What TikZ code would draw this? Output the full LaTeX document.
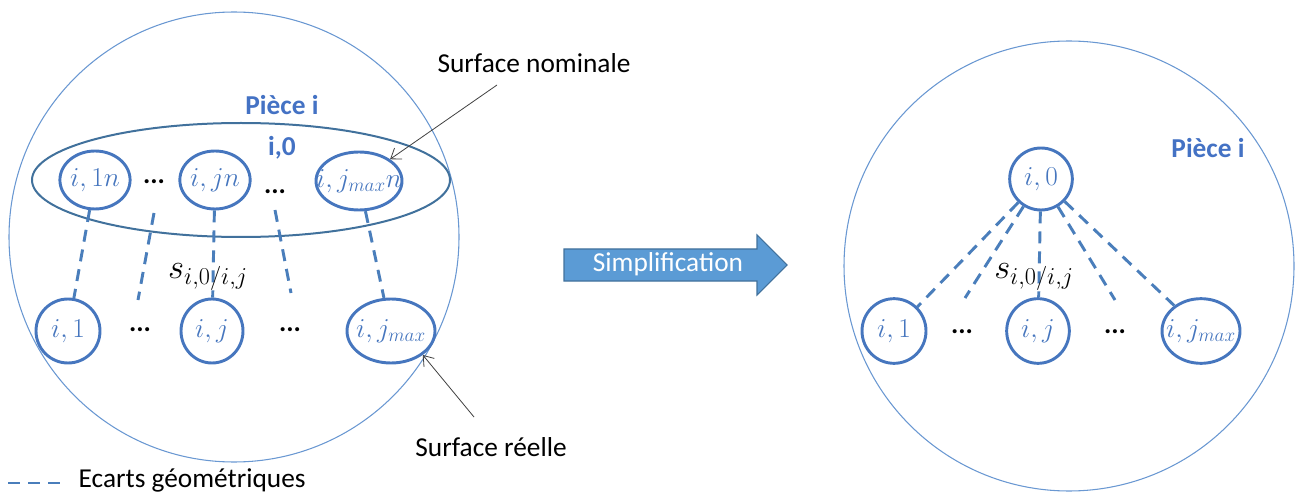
\documentclass[tikz,border=0pt]{standalone}
\usepackage{fix-cm}
\usepackage{amsmath}
\usepackage{fontspec}
\setmainfont{Carlito}
\usetikzlibrary{shapes.geometric,arrows.meta}
\definecolor{partblue}{HTML}{6A98D2}
\definecolor{nodeblue}{HTML}{4676BE}
\definecolor{ringblue}{HTML}{41719C}
\definecolor{dashblue}{HTML}{4A7EBB}
\definecolor{titleblue}{HTML}{4472C4}
\definecolor{arrowfill}{HTML}{5B9BD5}
\newcommand{\widelab}[1]{\makebox[0pt]{$#1$}}
\tikzset{
  surf/.style={ellipse, draw=nodeblue, line width=2.2pt, inner sep=0pt, text=nodeblue, font=\fontsize{20.5}{22}\selectfont},
  ecart/.style={draw=dashblue, line width=2.2pt, dash pattern=on 9pt off 6pt},
  partline/.style={draw=partblue, line width=0.8pt},
  lbl/.style={font=\fontsize{20.5}{24}\selectfont},
  titre/.style={font=\bfseries\fontsize{20.5}{24}\selectfont, text=titleblue},
  etc/.style={font=\bfseries\fontsize{20.5}{24}\selectfont},
  pointer/.style={-{Straight Barb[length=7pt,width=10pt]}, draw=black!75, line width=0.6pt},
}
\begin{document}
\begin{tikzpicture}[x=0.75pt, y=-0.75pt]
\useasboundingbox (0,0) rectangle (1302,495);

\draw[partline] (234,237) circle [radius=225];
\draw[partline] (1069,266) circle [radius=225];

\node[ellipse, draw=ringblue, line width=1.5pt, minimum width=313.5pt, minimum height=85.5pt] (nominale) at (241,180) {};
\node[titre] (piece) at (282,105) {Pièce i};
\node[titre] (ref) at (282,148) {i,0};

\node[surf, minimum width=48pt, minimum height=43.5pt] (topn1) at (95,180) {$i,1n$};
\node[surf, minimum width=46.5pt, minimum height=43.5pt] (topn2) at (215,180) {$i,jn$};
\node[surf, minimum width=64.5pt, minimum height=43.5pt] (topn3) at (359,181) {\widelab{i,j_{max}n}};
\node[etc] (dt1) at (154,182) {...};
\node[etc] (dt2) at (275,192) {...};

\node[surf, minimum width=48pt, minimum height=48pt] (bot1) at (68,331) {$i,1$};
\node[surf, minimum width=46.5pt, minimum height=48pt] (bot2) at (212,331) {$i,j$};
\node[surf, minimum width=66pt, minimum height=48pt] (bot3) at (391,331) {\widelab{i,j_{max}}};
\node[etc] (db1) at (140,330) {...};
\node[etc] (db2) at (290,330) {...};

\coordinate (fa1) at (154,213);
\coordinate (fa2) at (138,300);
\coordinate (fb1) at (275,210);
\coordinate (fb2) at (291,293);
\draw[ecart] (topn1) -- (bot1);
\draw[ecart] (fa1) -- (fa2);
\draw[ecart] (topn2) -- (bot2);
\draw[ecart] (fb1) -- (fb2);
\draw[ecart] (topn3) -- (bot3);
\node (sl) at (208,277) {\fontsize{26}{30}\selectfont$s_{i,0/i,j}$};

\node[lbl] (nomlbl) at (534,63) {Surface nominale};
\coordinate (nomstart) at (497,85);
\draw[pointer] (nomstart) -- (topn3.35);
\node[lbl] (reellbl) at (491,447) {Surface réelle};
\coordinate (reelstart) at (474,417);
\draw[pointer] (reelstart) -- (bot3.-37);

\coordinate (leg1) at (8,483);
\coordinate (leg2) at (60,483);
\draw[ecart] (leg1) -- (leg2);
\node[lbl, anchor=west] (leglbl) at (74,480) {Ecarts géométriques};

\draw[fill=arrowfill, draw=ringblue, line width=0.8pt] (564,249) -- (757,249) -- (757,235) -- (787,265) -- (757,295) -- (757,281) -- (564,281) -- cycle;
\node[lbl, text=white] (simp) at (668,264) {Simplification};

\node[titre] (piece2) at (1208,148) {Pièce i};
\node[surf, minimum width=47pt, minimum height=46.5pt] (r0) at (1041,179) {$i,0$};
\node[surf, minimum width=48pt, minimum height=48.5pt] (rb1) at (894,331) {$i,1$};
\node[surf, minimum width=47pt, minimum height=48.5pt] (rb2) at (1038,331) {$i,j$};
\node[surf, minimum width=58.5pt, minimum height=48.5pt] (rb3) at (1201,331) {\widelab{i,j_{max}}};
\node[etc] (rd1) at (962,332) {...};
\node[etc] (rd2) at (1115,332) {...};
\coordinate (rf1) at (965,298);
\coordinate (rf2) at (1115,300);
\draw[ecart] (r0) -- (rb1);
\draw[ecart] (r0) -- (rf1);
\draw[ecart] (r0) -- (rb2);
\draw[ecart] (r0) -- (rf2);
\draw[ecart] (r0) -- (rb3);
\node (sr) at (1034,277) {\fontsize{26}{30}\selectfont$s_{i,0/i,j}$};
\end{tikzpicture}
\end{document}
